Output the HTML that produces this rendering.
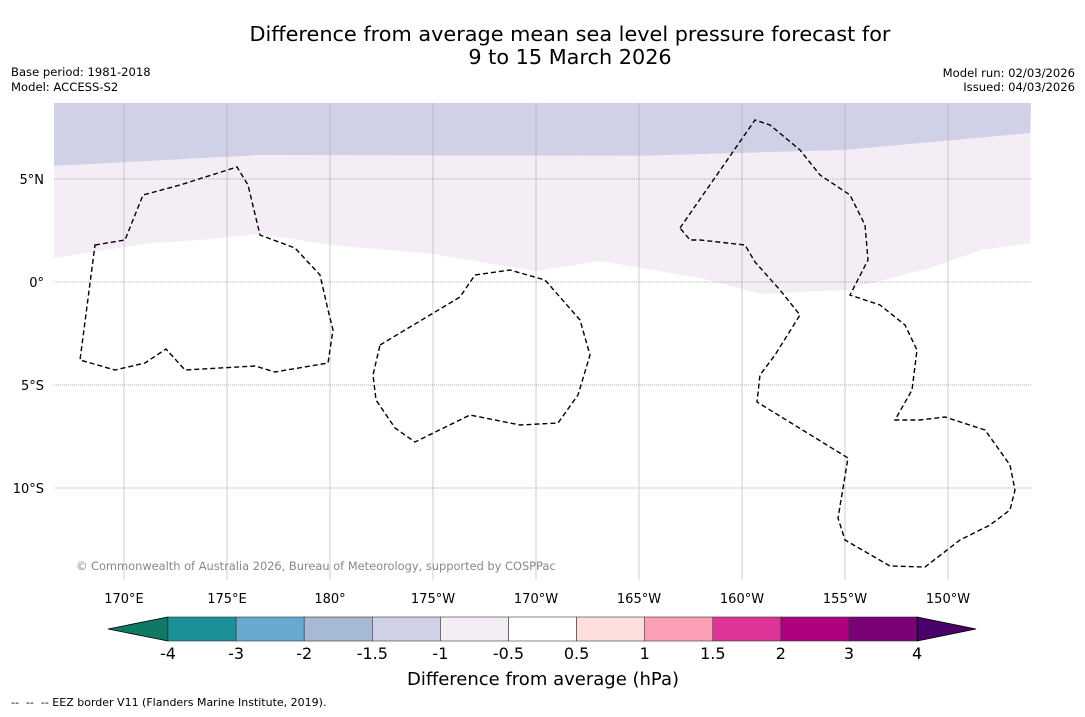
<!DOCTYPE html>
<html><head><meta charset="utf-8"><style>
body{margin:0;background:#fff;font-family:"DejaVu Sans","Liberation Sans",sans-serif;}
svg text{font-family:"DejaVu Sans","Liberation Sans",sans-serif;}
</style></head><body>
<svg id="c" width="1085" height="713" xmlns="http://www.w3.org/2000/svg">
<text x="570" y="41" font-size="20.8" text-anchor="middle">Difference from average mean sea level pressure forecast for</text>
<text x="570" y="64" font-size="20.8" text-anchor="middle">9 to 15 March 2026</text>
<text x="11" y="76" font-size="11.6">Base period: 1981-2018</text>
<text x="11" y="91" font-size="11.6">Model: ACCESS-S2</text>
<text x="1075" y="77" font-size="11.6" text-anchor="end">Model run: 02/03/2026</text>
<text x="1075" y="91" font-size="11.6" text-anchor="end">Issued: 04/03/2026</text>
<g id="map"></g>
<g id="cb"></g>
<text x="543" y="685" font-size="18" text-anchor="middle">Difference from average (hPa)</text>
<text x="11" y="706" font-size="11" xml:space="preserve">--  --  -- EEZ border V11 (Flanders Marine Institute, 2019).</text>
</svg>
<script>
const lonTicks=[170,175,180,185,190,195,200,205,210];
const lonLabels=["170°E","175°E","180°","175°W","170°W","165°W","160°W","155°W","150°W"];
const latTicks=[5,0,-5,-10];
const latLabels=["5°N","0°","5°S","10°S"];
const upperEdge=[[166.6,5.63],[176.6,6.16],[195.05,6.12],[205,6.41],[214,7.23]];
const lowerEdge=[[166.6,1.17],[171.26,1.89],[173.7,2.04],[176.6,2.33],[180,1.8],[185,1.36],[190,0.53],[193.1,1.02],[198,0.19],[200.9,-0.58],[205,-0.39],[209.1,0.68],[211.6,1.55],[214,1.89]];
const cbLevels=[-4,-3,-2,-1.5,-1,-0.5,0.5,1,1.5,2,3,4];
const cbColors=["#1b9098","#67a9cf","#a6b9d5","#d0d1e6","#f4edf5","#ffffff","#fde0dd","#fa9fb5","#dd3497","#ae017e","#7a0177"];
const X0=54,X1=1031,Y0=103,Y1=580;
const xs=l=>124+(l-170)*103/5, ys=l=>282-l*103/5;
const NS="http://www.w3.org/2000/svg";
function mk(t,a,p){const e=document.createElementNS(NS,t);for(const k in a)e.setAttribute(k,a[k]);p.appendChild(e);return e;}
const m=document.getElementById('map');
const pts=a=>a.map(p=>xs(p[0]).toFixed(1)+","+ys(p[1]).toFixed(1)).join(" L");
let e=mk('path',{d:`M${X0},${Y0} L${X1},${Y0} L${pts(upperEdge.slice().reverse())} Z`,fill:'#d0d1e6'},m);


e=mk('path',{d:`M${pts(upperEdge)} L${pts(lowerEdge.slice().reverse())} Z`,fill:'#f4edf5'},m);


lonTicks.forEach((l,i)=>{const x=xs(l);
 let g=mk('line',{x1:x,x2:x,y1:Y0,y2:Y1,stroke:'#aaa','stroke-width':0.6},m);
 
 
 let t=mk('text',{x:x,y:603,'font-size':13,'text-anchor':'middle'},m);t.textContent=lonLabels[i];
 
 
});
latTicks.forEach((l,i)=>{const y=ys(l);
 let g=mk('line',{x1:X0,x2:X1,y1:y,y2:y,stroke:'#666','stroke-width':0.6,'stroke-dasharray':'1,1'},m);
 
 
 let t=mk('text',{x:44,y:y+5,'font-size':13,'text-anchor':'end'},m);t.textContent=latLabels[i];
 
 
});
const eez=["M95,245 L125,240 L143,195 L180,185 L237,167 L248,185 L260,235 L295,248 L320,275 L328,310 L333,330 L328,363 L275,372 L255,366 L185,370 L166,349 L145,363 L115,370 L80,360 Z",
"M380,345 L460,297 L475,275 L510,270 L545,280 L580,320 L590,355 L578,395 L558,423 L520,425 L470,415 L415,442 L395,428 L376,400 L373,375 Z",
"M680,228 L755,120 L770,125 L800,150 L820,175 L850,195 L865,225 L868,260 L850,295 L880,305 L905,325 L917,350 L912,390 L895,420 L920,420 L945,417 L985,430 L1010,465 L1015,490 L1010,510 L990,525 L960,540 L925,567 L890,566 L845,540 L838,518 L848,458 L757,402 L760,375 L775,355 L800,315 L780,290 L755,262 L745,245 L700,240 L690,240 Z"];
eez.forEach(d=>{let p=mk('path',{d:d,fill:'none',stroke:'#000','stroke-width':1.4,'stroke-dasharray':'5,3'},m);
 
 });
let t=mk('text',{x:76,y:570,'font-size':11.4,fill:'#888'},m);t.textContent="© Commonwealth of Australia 2026, Bureau of Meteorology, supported by COSPPac";


const cb=document.getElementById('cb');
const cx0=168,cw=68.1,cy=617,ch=24;
let tri=mk('polygon',{points:`108,629 ${cx0},${cy} ${cx0},${cy+ch}`,fill:'#0e7a66',stroke:'#000','stroke-width':0.8},cb);


cbColors.forEach((c,i)=>{let r=mk('rect',{x:cx0+i*cw,y:cy,width:cw,height:ch,fill:c,stroke:'#333','stroke-width':0.6},cb);
 
 });
const xe=cx0+cbColors.length*cw;
tri=mk('polygon',{points:`${xe},${cy} ${xe+59},629 ${xe},${cy+ch}`,fill:'#49006a',stroke:'#000','stroke-width':0.8},cb);


cbLevels.forEach((v,i)=>{let tt=mk('text',{x:cx0+i*cw,y:659,'font-size':16,'text-anchor':'middle'},cb);tt.textContent=String(v);
 
 });
</script>
</body></html>
